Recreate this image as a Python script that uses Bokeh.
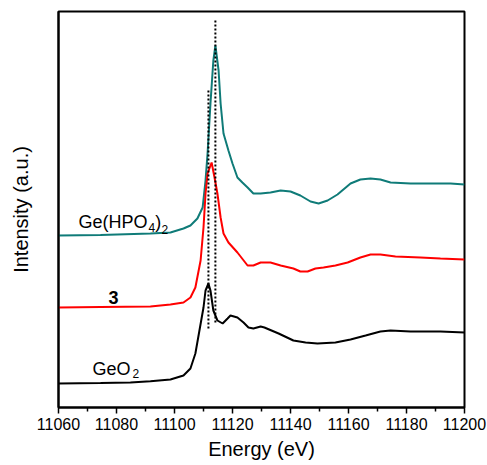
from bokeh.plotting import figure
from bokeh.models import Range1d, FixedTicker, Label
from bokeh.embed import file_html
from bokeh.resources import INLINE

# ---- data ----
e_geo2 = [11060, 11074.5, 11084.8, 11091.7, 11098.6, 11103.1, 11105.5, 11107.2, 11108.6, 11110.0,
          11110.7, 11111.7, 11112.4, 11113.4, 11114.8, 11116.6, 11118.3, 11119.3, 11121.7, 11123.8,
          11125.5, 11127.2, 11129.7, 11131.0, 11135.9, 11141.0, 11145.2, 11149.3, 11155.5, 11160.7,
          11165.9, 11171.0, 11174.5, 11181.4, 11191.7, 11200]
i_geo2 = [0.24, 0.245, 0.25, 0.263, 0.28, 0.32, 0.39, 0.54, 0.77, 1.00,
          1.17, 1.24, 1.17, 0.97, 0.87, 0.84, 0.89, 0.92, 0.90, 0.85,
          0.80, 0.79, 0.81, 0.80, 0.74, 0.67, 0.65, 0.64, 0.65, 0.68,
          0.72, 0.76, 0.77, 0.76, 0.76, 0.75]

e_3 = [11060, 11074.5, 11091.7, 11098.6, 11103.1, 11105.5, 11107.2, 11109.0, 11110.0, 11110.7,
       11111.4, 11112.8, 11113.8, 11114.8, 11115.9, 11116.9, 11118.6, 11121.7, 11125.2, 11127.2,
       11129.7, 11133.1, 11136.6, 11141.0, 11143.4, 11145.9, 11148.6, 11151.4, 11155.5, 11159.7,
       11164.1, 11167.6, 11171.0, 11176.2, 11184.8, 11191.7, 11200]
i_3 = [1.00, 1.005, 1.01, 1.03, 1.05, 1.10, 1.20, 1.47, 1.80, 2.14,
       2.34, 2.45, 2.30, 2.14, 1.90, 1.74, 1.65, 1.55, 1.42, 1.42,
       1.45, 1.45, 1.42, 1.39, 1.36, 1.36, 1.39, 1.40, 1.42, 1.45,
       1.50, 1.53, 1.53, 1.51, 1.50, 1.49, 1.48]

e_hpo = [11060, 11074.5, 11091.7, 11098.6, 11103.1, 11105.5, 11107.9, 11109.7, 11110.7, 11111.4,
         11112.4, 11113.4, 11114.1, 11115.2, 11115.9, 11116.9, 11117.6, 11118.6, 11120.0, 11121.7,
         11123.4, 11125.2, 11127.2, 11129.7, 11133.1, 11136.6, 11140.0, 11143.4, 11146.9, 11149.7,
         11152.8, 11156.2, 11160.7, 11164.1, 11167.6, 11171.0, 11174.5, 11181.4, 11188.3, 11195.2,
         11200]
i_hpo = [1.72, 1.725, 1.74, 1.75, 1.79, 1.82, 1.89, 2.00, 2.27, 2.54,
         3.04, 3.47, 3.62, 3.37, 3.04, 2.74, 2.67, 2.57, 2.44, 2.30,
         2.25, 2.20, 2.14, 2.14, 2.15, 2.17, 2.16, 2.12, 2.06, 2.04,
         2.07, 2.13, 2.24, 2.28, 2.29, 2.28, 2.25, 2.24, 2.24, 2.24,
         2.23]

peak_e = [11111.7, 11114.1]
peak_top = [3.17, 3.89]
peak_bottom = [0.79, 0.85]

x_ticks = [11060, 11080, 11100, 11120, 11140, 11160, 11180, 11200]
x_minor = [11070, 11090, 11110, 11130, 11150, 11170, 11190]

FONT = "Liberation Sans"

p = figure(width=487, height=465, output_backend="svg", toolbar_location=None,
           title_location=None,
           x_range=Range1d(11060, 11200), y_range=Range1d(0, 3.96),
           min_border_left=58, min_border_right=23, min_border_top=11, min_border_bottom=58)

p.xgrid.visible = False
p.ygrid.visible = False
p.outline_line_color = "black"
p.outline_line_width = 2
p.outline_line_alpha = 1

# x axis
xa = p.xaxis[0]
xa.ticker = FixedTicker(ticks=x_ticks, minor_ticks=x_minor)
xa.axis_label = "Energy (eV)"
xa.axis_label_text_font = FONT
xa.axis_label_text_font_size = "20px"
xa.axis_label_text_font_style = "normal"
xa.axis_label_text_color = "black"
xa.axis_label_standoff = 5
xa.major_label_text_font = FONT
xa.major_label_text_font_size = "16px"
xa.major_label_text_color = "black"
xa.major_label_standoff = 4
xa.axis_line_width = 2
xa.axis_line_color = "black"
xa.major_tick_in = 0
xa.major_tick_out = 6
xa.minor_tick_in = 0
xa.minor_tick_out = 4
xa.major_tick_line_width = 1.5
xa.minor_tick_line_width = 1.5
xa.major_tick_line_color = "black"
xa.minor_tick_line_color = "black"

# y axis (no ticks)
ya = p.yaxis[0]
ya.ticker = FixedTicker(ticks=[])
ya.axis_label = "Intensity (a.u.)"
ya.axis_label_text_font = FONT
ya.axis_label_text_font_size = "20px"
ya.axis_label_text_font_style = "normal"
ya.axis_label_text_color = "black"
ya.axis_label_standoff = 27
ya.axis_line_width = 2
ya.axis_line_color = "black"
ya.major_tick_out = 0
ya.minor_tick_out = 0

# curves
p.line(e_hpo, i_hpo, line_color="#0f7b78", line_width=2)
p.line(e_3, i_3, line_color="#ff0000", line_width=2)
p.line(e_geo2, i_geo2, line_color="#000000", line_width=2)

# dotted reference lines
p.segment(x0=peak_e, y0=peak_bottom, x1=peak_e, y1=peak_top,
          line_color="black", line_width=2, line_dash="2 2")

def lab(x, y, t, size, style="normal"):
    p.add_layout(Label(x=x, y=y, text=t, text_font=FONT, text_font_size=size,
                       text_font_style=style, text_color="black",
                       text_align="left", text_baseline="alphabetic"))

# Ge(HPO4)2
lab(11066.9, 1.86, "Ge(HPO", "18px")
lab(11091.0, 1.80, "4", "12px")
lab(11093.4, 1.86, ")", "18px")
lab(11095.5, 1.78, "2", "12px")
# 3
lab(11077.2, 1.10, "3", "18px", "bold")
# GeO2
lab(11071.7, 0.39, "GeO", "18px")
lab(11085.5, 0.34, "2", "12px")

open("out.html", "w").write(file_html(p, INLINE))
